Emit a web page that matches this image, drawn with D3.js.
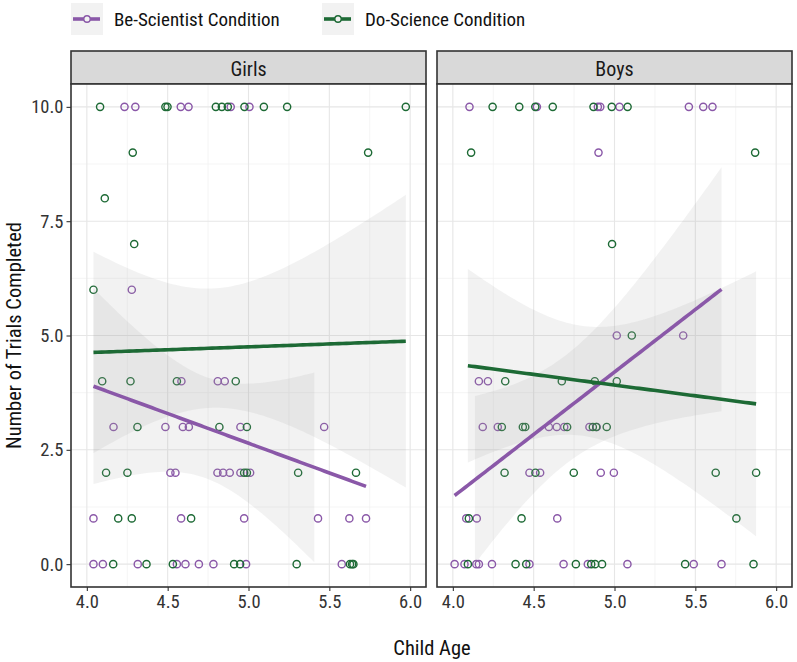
<!DOCTYPE html>
<html>
<head>
<meta charset="utf-8">
<script src="https://cdn.jsdelivr.net/npm/d3@7"></script>
<style>
  body { margin: 0; background: #fff; }
  svg text { font-family: "Liberation Sans Narrow", "Arial Narrow", "Roboto Condensed", sans-serif; }
</style>
</head>
<body>
<svg id="chart" width="797" height="662"></svg>
<script>
// ---------- data ----------
const panels = ["Girls", "Boys"];
const conditions = ["Be-Scientist Condition", "Do-Science Condition"];
const xTicks = [4.0, 4.5, 5.0, 5.5, 6.0];
const yTicks = [0, 2.5, 5, 7.5, 10];

// Girls, Be-Scientist
const girlsBeAge    = [4.233,4.30,4.581,4.629,4.89,5.006, 4.278, 4.585,4.81,4.853,
                       4.165,4.486,4.594,4.631,4.95,5.468, 4.517,4.548,4.808,4.843,4.884,4.95,5.01,
                       4.041,4.583,4.973,5.43,5.624,5.727, 4.041,4.099,4.315,4.557,4.61,4.693,4.783,4.985,5.577];
const girlsBeTrials = [10,10,10,10,10,10, 6, 4,4,4,
                       3,3,3,3,3,3, 2,2,2,2,2,2,2,
                       1,1,1,1,1,1, 0,0,0,0,0,0,0,0,0];
// Girls, Do-Science
const girlsDoAge    = [4.082,4.486,4.499,4.798,4.835,4.872,4.975,5.095,5.239,5.973, 4.284,5.74, 4.111, 4.293, 4.041,
                       4.095,4.27,4.557,4.921, 4.313,4.82,4.99, 4.119,4.251,4.973,4.99,5.307,5.665,
                       4.194,4.278,4.645, 4.163,4.369,4.532,4.911,4.948,5.298,5.628,5.641,5.649];
const girlsDoTrials = [10,10,10,10,10,10,10,10,10,10, 9,9, 8, 7, 6,
                       4,4,4,4, 3,3,3, 2,2,2,2,2,2,
                       1,1,1, 0,0,0,0,0,0,0,0,0];
// Boys, Be-Scientist
const boysBeAge     = [4.103,4.52,4.897,4.912,5.031,5.46,5.549,5.606, 4.901, 5.014,5.425, 4.161,4.217,
                       4.185,4.278,4.594,4.643,4.689,4.845,4.89, 4.474,4.54,4.915,4.996,
                       4.083,4.148,4.646, 4.011,4.072,4.145,4.161,4.242,4.474,4.685,4.835,5.08,5.49,5.662];
const boysBeTrials  = [10,10,10,10,10,10,10,10, 9, 5,5, 4,4,
                       3,3,3,3,3,3,3, 2,2,2,2,
                       1,1,1, 0,0,0,0,0,0,0,0,0,0,0];
// Boys, Do-Science
const boysDoAge     = [4.246,4.411,4.51,4.618,4.87,4.983,5.081, 4.113,5.87, 4.985, 5.107,
                       4.324,4.674,4.878,5.014, 4.303,4.433,4.448,4.707,4.866,4.887,4.952,
                       4.32,4.511,4.748,5.626,5.876, 4.099,4.425,5.754,
                       4.093,4.388,4.454,4.761,4.856,4.88,4.923,5.437,5.86];
const boysDoTrials  = [10,10,10,10,10,10,10, 9,9, 7, 5,
                       4,4,4,4, 3,3,3,3,3,3,3,
                       2,2,2,2,2, 1,1,1,
                       0,0,0,0,0,0,0,0,0];

// fitted trend values (at youngest / oldest child of each group)
// order: Girls Be, Girls Do, Boys Be, Boys Do
const fitAtYoungest = [3.89, 4.63, 1.50, 4.34];
const fitAtOldest   = [1.70, 4.875, 6.01, 3.505];

const seriesData = {
  Girls: [{cond: conditions[0], age: girlsBeAge, y: girlsBeTrials, f0: fitAtYoungest[0], f1: fitAtOldest[0]},
          {cond: conditions[1], age: girlsDoAge, y: girlsDoTrials, f0: fitAtYoungest[1], f1: fitAtOldest[1]}],
  Boys:  [{cond: conditions[0], age: boysBeAge, y: boysBeTrials, f0: fitAtYoungest[2], f1: fitAtOldest[2]},
          {cond: conditions[1], age: boysDoAge, y: boysDoTrials, f0: fitAtYoungest[3], f1: fitAtOldest[3]}]
};

// ---------- styles ----------
const colors = {"Be-Scientist Condition": "#8a58a8", "Do-Science Condition": "#1d6a35"};
const svg = d3.select("#chart");

const panelLeft = [71, 437];
const panelW = 355;
const panelTop = 84, panelBottom = 587;
const stripTop = 51;

const yScale = d3.scaleLinear().domain([-0.5, 10.5]).range([panelBottom, panelTop]);

function tQuant(df) {
  const z = 1.959964;
  return z + (z*z*z + z)/(4*df) + (5*Math.pow(z,5) + 16*z*z*z + 3*z)/(96*df*df);
}

// confidence band around the trend line, using the spread of the group's points
function band(s) {
  const xs = s.age, ys = s.y, n = xs.length;
  const [x0, x1] = d3.extent(xs);
  const b = (s.f1 - s.f0) / (x1 - x0), a = s.f0 - b * x0;
  const mx = d3.mean(xs);
  let sxx = 0, sse = 0;
  for (let i = 0; i < n; i++) { sxx += (xs[i]-mx)**2; sse += (ys[i] - a - b*xs[i])**2; }
  const sd = Math.sqrt(sse/(n-2));
  const t = tQuant(n-2);
  return d3.range(80).map(i => {
    const x = x0 + (x1-x0)*i/79;
    const f = a + b*x;
    const se = sd*Math.sqrt(1/n + (x-mx)**2/sxx);
    return {x, f, lo: f - t*se, hi: f + t*se};
  });
}

panels.forEach((p, pi) => {
  const left = panelLeft[pi];
  const xScale = d3.scaleLinear().domain([3.902, 6.098]).range([left, left + panelW]);
  const g = svg.append("g");

  // strip
  g.append("rect").attr("x", left).attr("y", stripTop).attr("width", panelW).attr("height", panelTop - stripTop)
    .attr("fill", "#d9d9d9").attr("stroke", "#333").attr("stroke-width", 1.6);
  g.append("text").attr("x", left + panelW/2).attr("y", stripTop + 24.5).attr("text-anchor", "middle")
    .attr("font-size", 20).attr("fill", "#1a1a1a").text(p);

  // panel bg
  g.append("rect").attr("x", left).attr("y", panelTop).attr("width", panelW).attr("height", panelBottom - panelTop)
    .attr("fill", "#fff");

  // minor grid
  const xMinor = [4.25, 4.75, 5.25, 5.75];
  const yMinor = [1.25, 3.75, 6.25, 8.75];
  g.selectAll(null).data(xMinor).join("line")
    .attr("x1", d => xScale(d)).attr("x2", d => xScale(d)).attr("y1", panelTop).attr("y2", panelBottom)
    .attr("stroke", "#f0f0f0").attr("stroke-width", 0.7);
  g.selectAll(null).data(yMinor).join("line")
    .attr("y1", d => yScale(d)).attr("y2", d => yScale(d)).attr("x1", left).attr("x2", left + panelW)
    .attr("stroke", "#f0f0f0").attr("stroke-width", 0.7);
  // major grid
  g.selectAll(null).data(xTicks).join("line")
    .attr("x1", d => xScale(d)).attr("x2", d => xScale(d)).attr("y1", panelTop).attr("y2", panelBottom)
    .attr("stroke", "#e6e6e6").attr("stroke-width", 1.1);
  g.selectAll(null).data(yTicks).join("line")
    .attr("y1", d => yScale(d)).attr("y2", d => yScale(d)).attr("x1", left).attr("x2", left + panelW)
    .attr("stroke", "#e6e6e6").attr("stroke-width", 1.1);

  const series = seriesData[p];
  // points
  series.forEach(s => {
    g.selectAll(null).data(s.age.map((a, i) => [a, s.y[i]])).join("circle")
      .attr("cx", d => xScale(d[0])).attr("cy", d => yScale(d[1])).attr("r", 3.6)
      .attr("fill", "none").attr("stroke", colors[s.cond]).attr("stroke-width", 1.4);
  });
  // bands (dropped where they leave the 0–10 scale limits)
  series.forEach(s => {
    const fit = band(s);
    g.append("path").datum(fit)
      .attr("d", d3.area().defined(d => d.lo >= 0 && d.hi <= 10)
        .x(d => xScale(d.x)).y0(d => yScale(d.lo)).y1(d => yScale(d.hi)))
      .attr("fill", "#999").attr("fill-opacity", 0.13);
    s.fit = fit;
  });
  // lines
  series.forEach(s => {
    g.append("path").datum(s.fit)
      .attr("d", d3.line().x(d => xScale(d.x)).y(d => yScale(d.f)))
      .attr("fill", "none").attr("stroke", colors[s.cond]).attr("stroke-width", 3.6);
  });

  // border
  g.append("rect").attr("x", left).attr("y", panelTop).attr("width", panelW).attr("height", panelBottom - panelTop)
    .attr("fill", "none").attr("stroke", "#333").attr("stroke-width", 1.6);

  // x axis
  const xAxis = g.append("g").attr("transform", `translate(0,${panelBottom})`)
    .call(d3.axisBottom(xScale).tickValues(xTicks).tickFormat(d3.format(".1f")).tickSize(4).tickPadding(4));
  xAxis.select(".domain").remove();
  xAxis.selectAll(".tick line").attr("stroke", "#333").attr("stroke-width", 1.1);
  xAxis.selectAll(".tick text").attr("font-size", 18.5).attr("fill", "#333");

  if (pi === 0) {
    const yAxis = g.append("g").attr("transform", `translate(${left},0)`)
      .call(d3.axisLeft(yScale).tickValues(yTicks).tickFormat(d3.format(".1f")).tickSize(4.5).tickPadding(3));
    yAxis.select(".domain").remove();
    yAxis.selectAll(".tick line").attr("stroke", "#333").attr("stroke-width", 1.1);
    yAxis.selectAll(".tick text").attr("font-size", 18.5).attr("fill", "#333");
  }
});

// axis titles
svg.append("text").attr("x", 432).attr("y", 655).attr("text-anchor", "middle")
  .attr("font-size", 20.5).attr("fill", "#111").text("Child Age");
svg.append("text").attr("transform", `translate(21,${(panelTop+panelBottom)/2}) rotate(-90)`)
  .attr("text-anchor", "middle").attr("font-size", 20.5).attr("fill", "#111").text("Number of Trials Completed");

// legend
const legendX = [71, 322];
conditions.forEach((c, i) => {
  const lg = svg.append("g").attr("transform", `translate(${legendX[i]},3)`);
  lg.append("rect").attr("width", 32).attr("height", 32).attr("fill", "#f2f2f2");
  lg.append("line").attr("x1", 2).attr("x2", 29).attr("y1", 16).attr("y2", 16)
    .attr("stroke", colors[c]).attr("stroke-width", 3.6);
  lg.append("circle").attr("cx", 16).attr("cy", 16).attr("r", 3.2)
    .attr("fill", "#f2f2f2").attr("stroke", colors[c]).attr("stroke-width", 1.4);
  lg.append("text").attr("x", 43).attr("y", 22.5).attr("font-size", 19).attr("fill", "#111").text(c);
});
</script>
</body>
</html>
